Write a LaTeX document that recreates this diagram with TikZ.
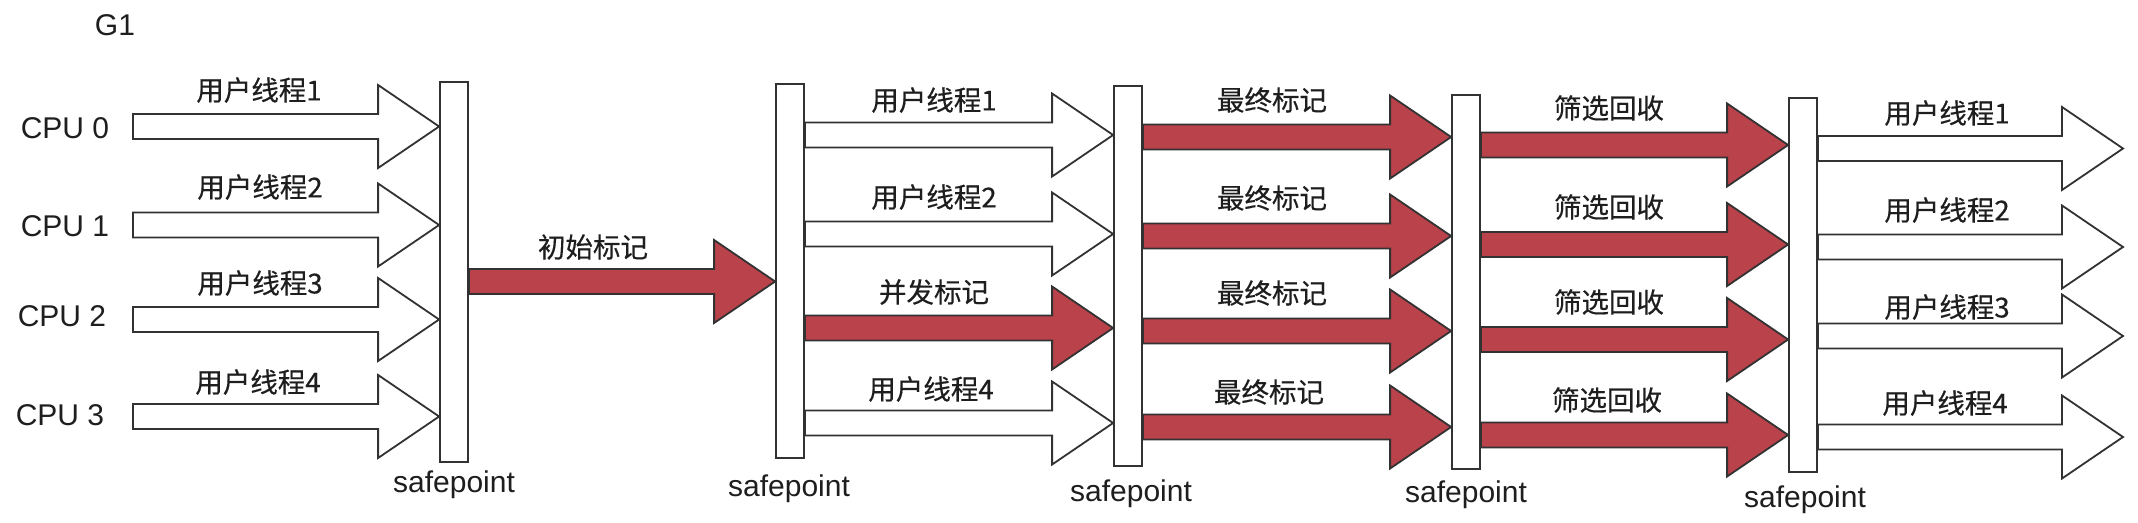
\documentclass[tikz,border=0pt]{standalone}
\usepackage{fontspec}
\setmainfont{Liberation Sans}
\newfontfamily\cjk[FakeBold=0.4]{Noto Sans CJK SC}
\usetikzlibrary{calc}
\definecolor{edge}{RGB}{50,50,50}
\definecolor{redf}{RGB}{186,66,75}
\definecolor{txt}{RGB}{30,30,30}
\tikzset{
  lab/.style={inner sep=0pt, font=\fontsize{27.5}{30}\selectfont\cjk, text=txt},
  lat/.style={inner sep=0pt, font=\fontsize{30}{34}\selectfont, text=txt},
  spbar/.style={draw=edge, line width=1.8pt, fill=white, minimum width=28pt, inner sep=0pt},
  warr/.style={draw=edge, line width=1.8pt, fill=white, line join=miter},
  rarr/.style={draw=edge, line width=1.8pt, fill=redf, line join=miter},
}
% block arrow between two named coordinates (same height)
\newcommand\blk[3]{%
  \draw[#1] let \p1=(#2), \p2=(#3) in
    (\x1,\y1+12.5pt) -- (\x2-61pt,\y1+12.5pt) -- (\x2-61pt,\y1+41.5pt) --
    (\x2,\y1) -- (\x2-61pt,\y1-41.5pt) -- (\x2-61pt,\y1-12.5pt) --
    (\x1,\y1-12.5pt) -- cycle;}
\begin{document}
\begin{tikzpicture}[x=1pt,y=-1pt]
\useasboundingbox[fill=white] (0,0) rectangle (2138,522);

% safepoint bars
\node[spbar, minimum height=380pt] (b1) at (454,272) {};
\node[spbar, minimum height=374pt] (b2) at (790,271) {};
\node[spbar, minimum height=380pt] (b3) at (1128,276) {};
\node[spbar, minimum height=374pt] (b4) at (1466,282) {};
\node[spbar, minimum height=374pt] (b5) at (1803,285) {};

% safepoint labels
\node[lat] (sp1) at (454,485) {safepoint};
\node[lat] (sp2) at (789,489) {safepoint};
\node[lat] (sp3) at (1131,494) {safepoint};
\node[lat] (sp4) at (1466,495) {safepoint};
\node[lat] (sp5) at (1805,500) {safepoint};

% title and CPU labels
\node[lat] (g1) at (115,25) {G1};
\node[lat] (cpu0) at (65,128) {CPU 0};
\node[lat] (cpu1) at (65,226) {CPU 1};
\node[lat] (cpu2) at (62,316) {CPU 2};
\node[lat] (cpu3) at (60,415) {CPU 3};

% column 0 : user threads
\coordinate (s00) at (133,126.5); \coordinate (t00) at (b1.west |- 0,126.5);
\coordinate (s01) at (133,225);   \coordinate (t01) at (b1.west |- 0,225);
\coordinate (s02) at (133,319.5); \coordinate (t02) at (b1.west |- 0,319.5);
\coordinate (s03) at (133,416.5); \coordinate (t03) at (b1.west |- 0,416.5);
\blk{warr}{s00}{t00}
\blk{warr}{s01}{t01}
\blk{warr}{s02}{t02}
\blk{warr}{s03}{t03}
\node[lab] (l00) at (259,90) {用户线程1};
\node[lab] (l01) at (260,187) {用户线程2};
\node[lab] (l02) at (260,283) {用户线程3};
\node[lab] (l03) at (258,382) {用户线程4};

% column 1 : initial mark
\coordinate (s10) at (b1.east |- 0,281.5); \coordinate (t10) at (b2.west |- 0,281.5);
\blk{rarr}{s10}{t10}
\node[lab] (l10) at (593,247) {初始标记};

% column 2
\coordinate (s20) at (b2.east |- 0,135); \coordinate (t20) at (b3.west |- 0,135);
\coordinate (s21) at (b2.east |- 0,234); \coordinate (t21) at (b3.west |- 0,234);
\coordinate (s22) at (b2.east |- 0,328); \coordinate (t22) at (b3.west |- 0,328);
\coordinate (s23) at (b2.east |- 0,423); \coordinate (t23) at (b3.west |- 0,423);
\blk{warr}{s20}{t20}
\blk{warr}{s21}{t21}
\blk{rarr}{s22}{t22}
\blk{warr}{s23}{t23}
\node[lab] (l20) at (934,100) {用户线程1};
\node[lab] (l21) at (934,197) {用户线程2};
\node[lab] (l22) at (934,292) {并发标记};
\node[lab] (l23) at (931,389) {用户线程4};

% column 3 : final mark
\coordinate (s30) at (b3.east |- 0,137); \coordinate (t30) at (b4.west |- 0,137);
\coordinate (s31) at (b3.east |- 0,236); \coordinate (t31) at (b4.west |- 0,236);
\coordinate (s32) at (b3.east |- 0,331); \coordinate (t32) at (b4.west |- 0,331);
\coordinate (s33) at (b3.east |- 0,427); \coordinate (t33) at (b4.west |- 0,427);
\blk{rarr}{s30}{t30}
\blk{rarr}{s31}{t31}
\blk{rarr}{s32}{t32}
\blk{rarr}{s33}{t33}
\node[lab] (l30) at (1272,100) {最终标记};
\node[lab] (l31) at (1272,198) {最终标记};
\node[lab] (l32) at (1272,293) {最终标记};
\node[lab] (l33) at (1269,392) {最终标记};

% column 4 : evacuation
\coordinate (s40) at (b4.east |- 0,145);   \coordinate (t40) at (b5.west |- 0,145);
\coordinate (s41) at (b4.east |- 0,244.5); \coordinate (t41) at (b5.west |- 0,244.5);
\coordinate (s42) at (b4.east |- 0,339.5); \coordinate (t42) at (b5.west |- 0,339.5);
\coordinate (s43) at (b4.east |- 0,435);   \coordinate (t43) at (b5.west |- 0,435);
\blk{rarr}{s40}{t40}
\blk{rarr}{s41}{t41}
\blk{rarr}{s42}{t42}
\blk{rarr}{s43}{t43}
\node[lab] (l40) at (1609,108) {筛选回收};
\node[lab] (l41) at (1609,207) {筛选回收};
\node[lab] (l42) at (1609,302) {筛选回收};
\node[lab] (l43) at (1607,400) {筛选回收};

% column 5 : user threads again
\coordinate (s50) at (b5.east |- 0,148.5); \coordinate (t50) at (2123,148.5);
\coordinate (s51) at (b5.east |- 0,247);   \coordinate (t51) at (2123,247);
\coordinate (s52) at (b5.east |- 0,336);   \coordinate (t52) at (2123,336);
\coordinate (s53) at (b5.east |- 0,437);   \coordinate (t53) at (2123,437);
\blk{warr}{s50}{t50}
\blk{warr}{s51}{t51}
\blk{warr}{s52}{t52}
\blk{warr}{s53}{t53}
\node[lab] (l50) at (1947,113) {用户线程1};
\node[lab] (l51) at (1947,210) {用户线程2};
\node[lab] (l52) at (1947,307) {用户线程3};
\node[lab] (l53) at (1945,403) {用户线程4};
\end{tikzpicture}
\end{document}
